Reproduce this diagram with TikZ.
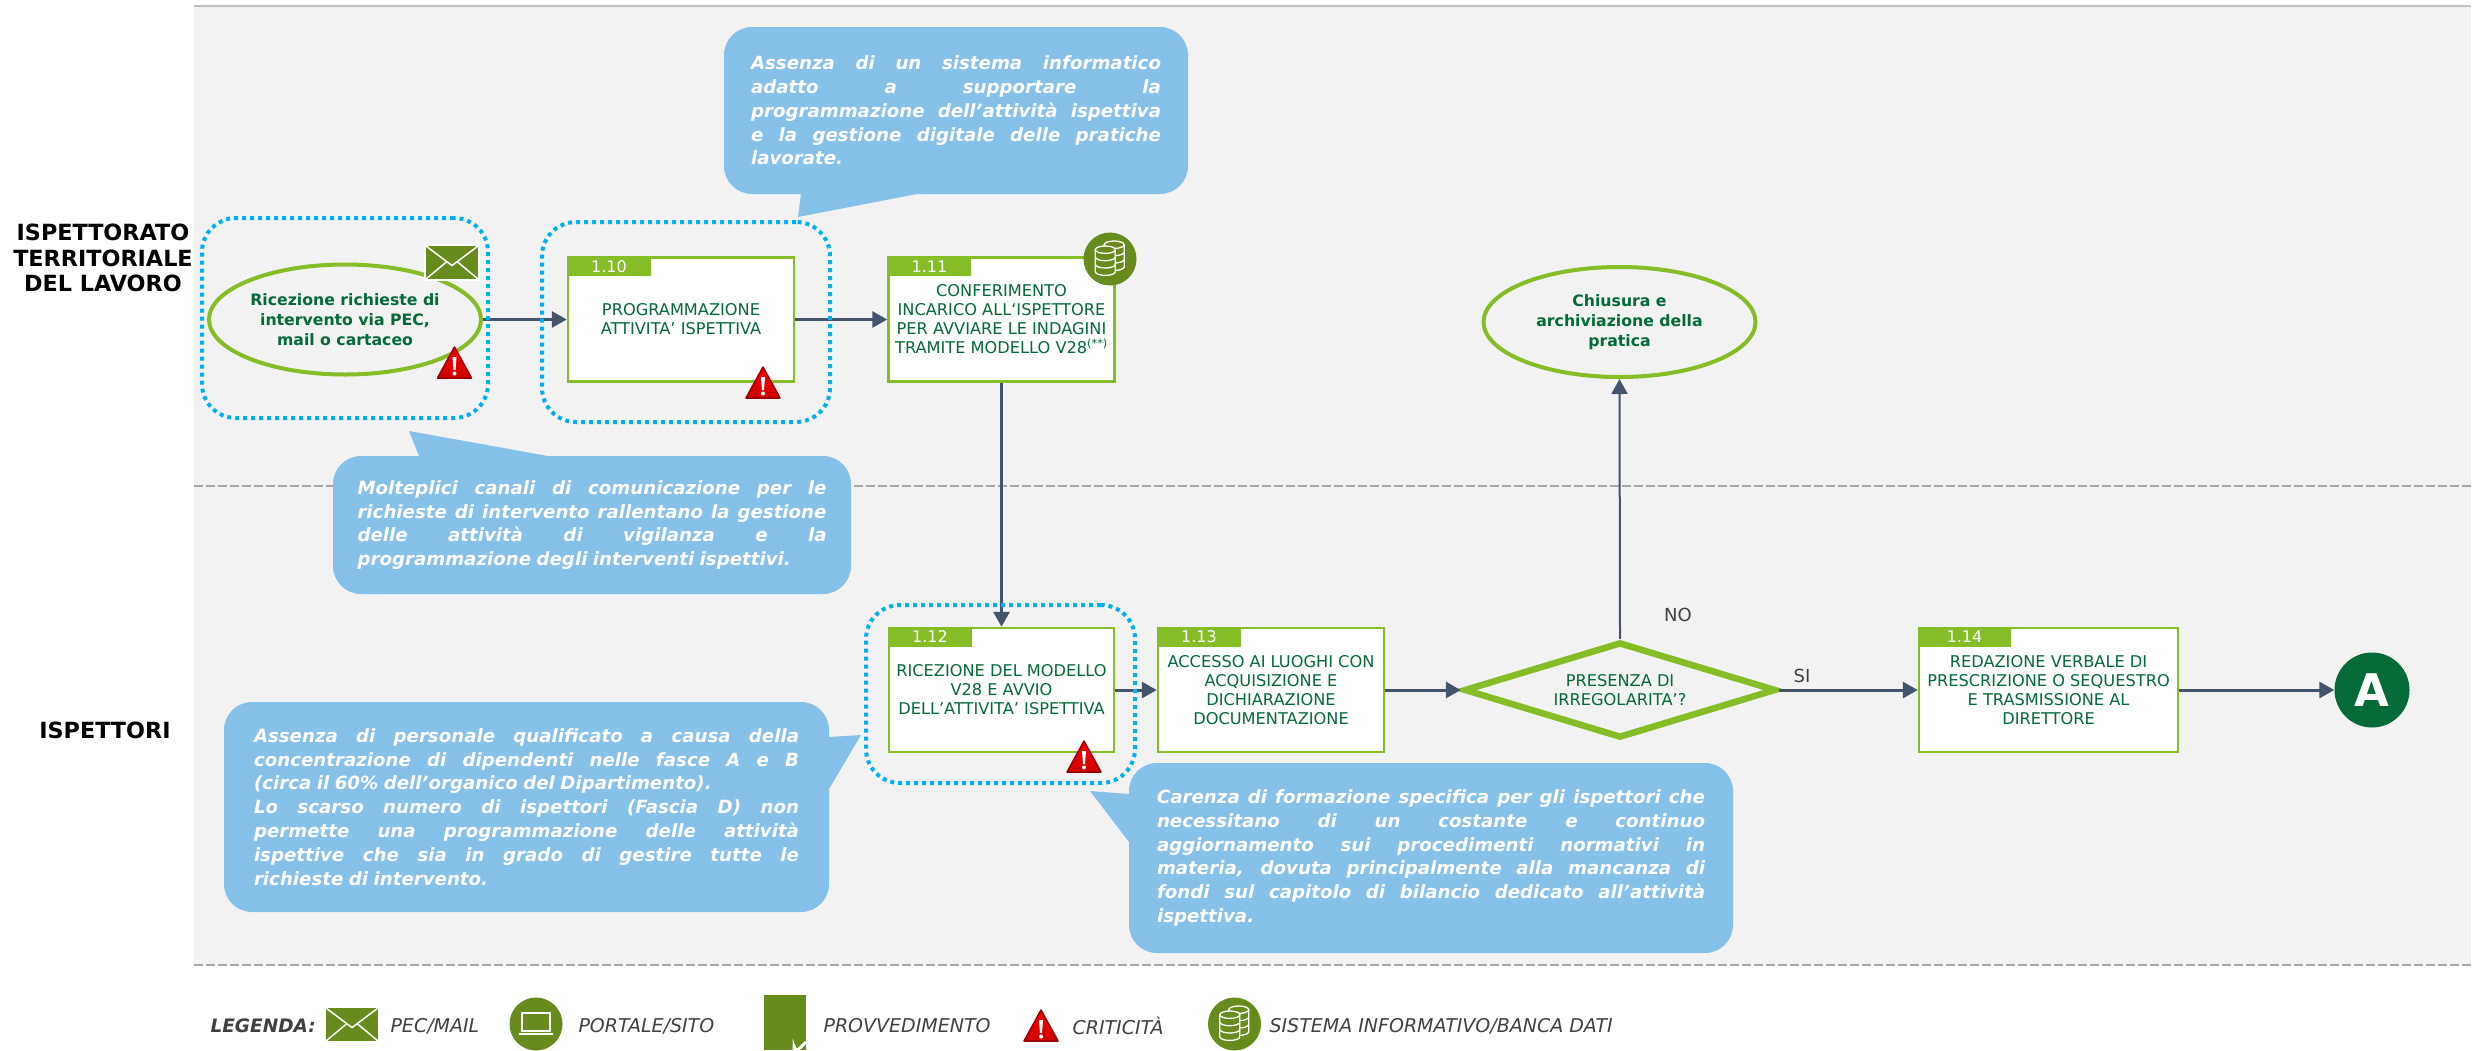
\documentclass[tikz,border=0pt]{standalone}
\usepackage{fontspec}
\setmainfont{DejaVu Sans}
\usetikzlibrary{arrows.meta,shapes.geometric,positioning}
\definecolor{itlgreen}{RGB}{134,188,37}
\definecolor{itldark}{RGB}{4,106,56}
\definecolor{itlicon}{RGB}{103,139,28}
\definecolor{itlblue}{RGB}{133,193,233}
\definecolor{itlcyan}{RGB}{0,176,240}
\definecolor{itlslate}{RGB}{68,84,106}
\definecolor{itllane}{RGB}{242,242,242}
\definecolor{itlline}{RGB}{166,166,166}
\definecolor{itltext}{RGB}{64,64,64}
\tikzset{
  arrow/.style={line width=3pt,color=itlslate,-{Triangle[length=15pt,width=16pt]}},
  lanedash/.style={itlline,line width=2.5pt,dash pattern=on 9pt off 3pt},
  lanelabel/.style={align=center,font=\fontsize{22.3}{25.5}\selectfont\bfseries},
  stepbox/.style={draw=itlgreen,fill=white,line width=2.5pt,inner sep=0pt,align=center,text=itldark,font=\fontsize{16.2}{19}\selectfont,execute at begin node={\rule{0pt}{17pt}}},
  tabnum/.style={fill=itlgreen,text=white,anchor=north west,minimum width=84pt,minimum height=20pt,inner sep=0pt,font=\fontsize{16}{19}\selectfont},
  endstate/.style={ellipse,draw=itlgreen,fill=itllane,line width=4pt,inner sep=0pt,minimum width=272pt,minimum height=110pt,align=center,text=itldark,font=\fontsize{15.7}{20}\selectfont\bfseries,execute at begin node={\rule{0pt}{17pt}}},
  critbox/.style={draw=itlcyan,rounded corners=34pt,line width=4pt,dash pattern=on 4pt off 4pt,inner sep=0pt},
  note/.style={fill=itlblue,rounded corners=28pt,inner sep=0pt,text=white,align=justify,font=\fontsize{18.2}{23.8}\selectfont\bfseries\itshape,execute at begin node={\hyphenpenalty=10000\tolerance=10000\spaceskip=.3em plus 1em minus .1em\relax}},
  legendtext/.style={anchor=west,text=itltext,font=\fontsize{19}{22}\selectfont\itshape},
  warn/.pic={
    \draw[draw=red!60!black,line width=1.5pt,line join=round,top color=red,bottom color=red!80!black] (0,-32) -- (17,-1) -- (-17,-1) -- cycle;
    \fill[white] (-2,-22) -- (2,-22) -- (1,-9) -- (-1,-9) -- cycle;
    \fill[white] (0,-5.5) circle (2);
  },
  mailicon/.pic={
    \fill[white] (-28,-18.5) rectangle (28,18.5);
    \fill[itlicon] (-26,-16.5) rectangle (26,16.5);
    \draw[white,line width=1.5pt] (-26,-16.5) -- (0,3) -- (26,-16.5);
    \draw[white,line width=1.5pt] (-26,16.5) -- (-5,-1) (26,16.5) -- (5,-1);
  },
  dbicon/.pic={
    \fill[itlicon] (0,0) circle (26.5);
    \foreach \cx/\cy in {4.2/-14.3,-4.7/-9.3} {
      \draw[white,fill=itlicon,line width=1.3pt] (\cx-10,\cy) -- (\cx-10,\cy+22) arc[start angle=180,end angle=0,x radius=10,y radius=3.7] -- (\cx+10,\cy) -- cycle;
      \draw[white,fill=itlicon,line width=1.3pt] (\cx,\cy) ellipse (10 and 3.7);
      \foreach \b in {7.3,14.6} {
        \draw[white,line width=1.3pt] (\cx-10,\cy+\b) arc[start angle=180,end angle=0,x radius=10,y radius=3.7];
      }
    }
  },
  laptopicon/.pic={
    \fill[itlicon] (0,0) circle (26.5);
    \draw[white,line width=1.4pt] (-14,-11) rectangle (14,7);
    \draw[white,line width=1.4pt] (-17,10) -- (17,10);
  }
}
\begin{document}
\begin{tikzpicture}[x=1pt,y=-1pt]
\useasboundingbox (0,0) rectangle (2483,1050);
% Lanes
\fill[itllane] (194,6) rectangle (2471,965);
\draw[itlline!70,line width=1.5pt] (194,6) -- (2471,6);
\draw[lanedash] (194,486) -- (2471,486);
\draw[lanedash] (194,965) -- (2471,965);
\node[lanelabel] (laneItl) at (103,258) {ISPETTORATO\\TERRITORIALE\\DEL LAVORO};
\node[lanelabel] (laneIsp) at (105,730) {ISPETTORI};

% Steps
\node[endstate] (ricezione) at (345,319.5) {Ricezione richieste di\\intervento via PEC,\\mail o cartaceo};
\node[stepbox,minimum width=226pt,minimum height=124pt] (b110) at (681,319.5) {PROGRAMMAZIONE\\ATTIVITA’ ISPETTIVA};
\node[stepbox,minimum width=226pt,minimum height=124pt] (b111) at (1001.5,319.5) {CONFERIMENTO\\INCARICO ALL‘ISPETTORE\\PER AVVIARE LE INDAGINI\\TRAMITE MODELLO V28\textsuperscript{(**)}};
\node[endstate] (chiusura) at (1619.5,322) {Chiusura e\\archiviazione della\\pratica};
\node[stepbox,minimum width=225pt,minimum height=124pt] (b112) at (1001.5,690) {RICEZIONE DEL MODELLO\\V28 E AVVIO\\DELL’ATTIVITA’ ISPETTIVA};
\node[stepbox,minimum width=226pt,minimum height=124pt] (b113) at (1271,690) {ACCESSO AI LUOGHI CON\\ACQUISIZIONE E\\DICHIARAZIONE\\DOCUMENTAZIONE};
\node[diamond,draw=itlgreen,fill=itllane,line width=6.5pt,inner sep=0pt,aspect=3.1,minimum width=312pt,minimum height=96pt,align=center,text=itldark,font=\fontsize{16.2}{19}\selectfont] (irreg) at (1620,690) {PRESENZA DI\\IRREGOLARITA’?};
\node[stepbox,minimum width=259pt,minimum height=124pt] (b114) at (2048.5,690) {REDAZIONE VERBALE DI\\PRESCRIZIONE O SEQUESTRO\\E TRASMISSIONE AL\\DIRETTORE};
\node[circle,fill=itldark,text=white,minimum size=75pt,inner sep=0pt,font=\fontsize{45}{45}\selectfont\bfseries] (connA) at (2372,690) {A};

% Tabs
\node[tabnum] (t110) at (b110.north west) {1.10};
\node[tabnum] (t111) at (b111.north west) {1.11};
\node[tabnum] (t112) at (b112.north west) {1.12};
\node[tabnum] (t113) at (b113.north west) {1.13};
\node[tabnum,minimum width=93pt] (t114) at (b114.north west) {1.14};

% Arrows
\draw[arrow] (ricezione.east) -- (b110.west);
\draw[arrow] (b110.east) -- (b111.west);
\draw[arrow] (b111.south) -- (b112.north);
\draw[arrow] (b112.east) -- (b113.west);
\draw[arrow] (b113.east) -- (irreg.west);
\draw[arrow] (irreg.east) -- (b114.west);
\draw[arrow] (b114.east) -- (connA.west);
\draw[arrow,line width=2pt] (irreg.north) -- (chiusura.south);
\node[text=itltext,font=\fontsize{18}{22}\selectfont] (labNo) at (1678,615) {NO};
\node[text=itltext,font=\fontsize{18}{22}\selectfont] (labSi) at (1802,676) {SI};

% Critical areas
\node[critbox,minimum width=286pt,minimum height=200pt] (critPec) at (345,318) {};
\node[critbox,minimum width=288pt,minimum height=200pt] (critProg) at (686,322) {};
\node[critbox,minimum width=269pt,minimum height=178pt] (critMod) at (1000.5,694) {};

% Icons
\pic at (452,262.5) {mailicon};
\pic at (454.5,379) {warn};
\pic at (763,399) {warn};
\pic at (1084,773) {warn};
\pic at (1110,259) {dbicon};

% Notes
\fill[itlblue] (801,190) -- (801,194) -- (798,217) -- (917,194) -- (917,190) -- cycle;
\node[note,minimum width=464pt,minimum height=167pt,text width=410pt] (notaSist) at (956,110.5) {Assenza di un sistema informatico\linebreak adatto a supportare la\linebreak programmazione dell’attività ispettiva\linebreak e la gestione digitale delle pratiche\linebreak lavorate.};
\fill[itlblue] (419,460) -- (419,456) -- (409,431) -- (548,456) -- (548,460) -- cycle;
\node[note,minimum width=518pt,minimum height=138pt,text width=469pt] (notaCanali) at (592,525) {Molteplici canali di comunicazione per le\linebreak richieste di intervento rallentano la gestione\linebreak delle attività di vigilanza e la\linebreak programmazione degli interventi ispettivi.};
\fill[itlblue] (825,737) -- (829,737) -- (861,735) -- (829,789) -- (825,789) -- cycle;
\node[note,minimum width=605pt,minimum height=210pt,text width=545pt] (notaPers) at (526.5,807) {Assenza di personale qualificato a causa della\linebreak concentrazione di dipendenti nelle fasce A e B\linebreak (circa il 60\% dell’organico del Dipartimento).\\ Lo scarso numero di ispettori (Fascia D) non\linebreak permette una programmazione delle attività\linebreak ispettive che sia in grado di gestire tutte le\linebreak richieste di intervento.};
\fill[itlblue] (1133,794) -- (1129,794) -- (1090,791) -- (1129,842) -- (1133,842) -- cycle;
\node[note,minimum width=604pt,minimum height=190pt,text width=548pt] (notaForm) at (1431,858) {Carenza di formazione specifica per gli ispettori che\linebreak necessitano di un costante e continuo\linebreak aggiornamento sui procedimenti normativi in\linebreak materia, dovuta principalmente alla mancanza di\linebreak fondi sul capitolo di bilancio dedicato all’attività\linebreak ispettiva.};

% Legend
\node[legendtext,font=\fontsize{18.5}{22}\selectfont\bfseries\itshape] (legTitle) at (207,1026) {LEGENDA:};
\pic at (352,1024.5) {mailicon};
\node[legendtext] (legPec) at (387,1026) {PEC/MAIL};
\pic at (536,1024) {laptopicon};
\node[legendtext] (legSito) at (575,1026) {PORTALE/SITO};
\fill[itlicon] (764,995) rectangle (806,1050);
\draw[white,line width=3pt] (794,1050) -- (794,1046) arc[start angle=180,end angle=90,radius=4] -- (806,1042);
\node[legendtext] (legProv) at (820,1026) {PROVVEDIMENTO};
\pic at (1041,1042) {warn};
\node[legendtext] (legCrit) at (1069,1026) {CRITICITÀ};
\pic at (1234.5,1024) {dbicon};
\node[legendtext] (legDb) at (1266,1026) {SISTEMA INFORMATIVO/BANCA DATI};
\end{tikzpicture}
\end{document}
